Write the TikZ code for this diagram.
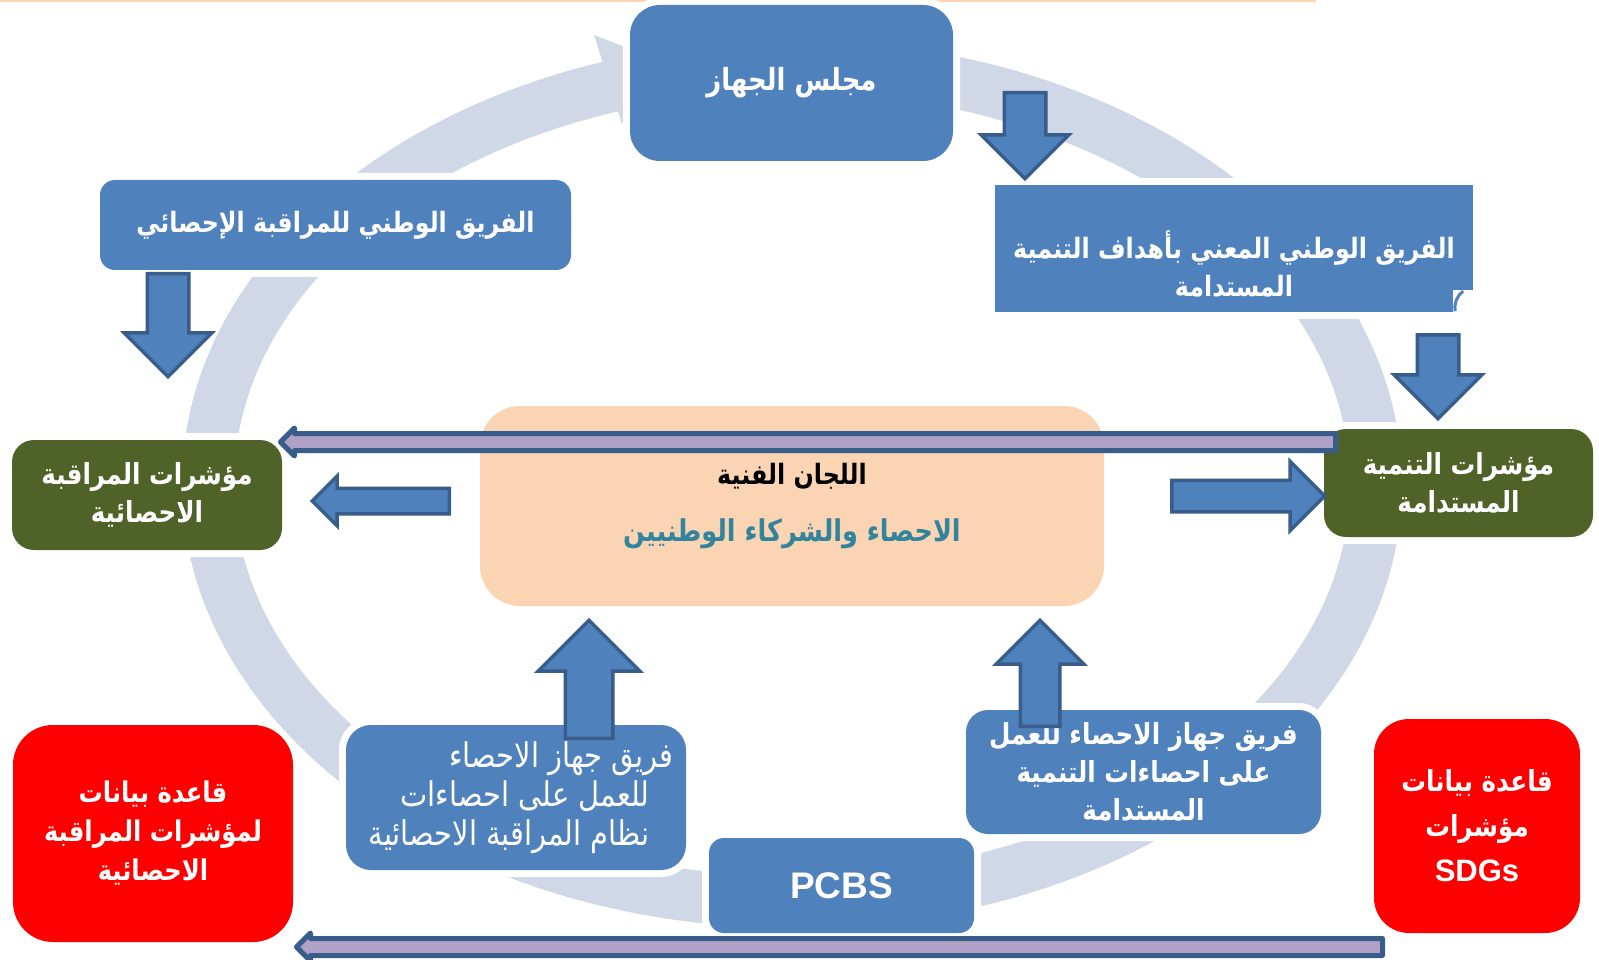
\documentclass[tikz,border=0pt]{standalone}
\usepackage{fontspec}
\setmainfont{Liberation Sans}
\newfontfamily\arabicfont[Script=Arabic,FakeStretch=0.85]{DejaVu Sans}
\TeXXeTstate=1
\usetikzlibrary{shapes.arrows,calc}
\definecolor{boxblue}{RGB}{79,129,189}
\definecolor{arrline}{RGB}{56,93,138}
\definecolor{ringgray}{RGB}{208,216,232}
\definecolor{leafgreen}{RGB}{79,98,40}
\definecolor{peach}{RGB}{251,212,180}
\definecolor{lilac}{RGB}{178,161,199}
\definecolor{tealtxt}{RGB}{49,132,155}
\newcommand{\artxt}[1]{{\arabicfont\beginR #1\endR}}
\tikzset{box/.style={rectangle,inner sep=0pt,text=white,align=center,
		font=\bfseries\fontsize{29}{38}\selectfont},
	 halo/.style={preaction={draw=white,line width=14pt}},
	 bluebox/.style={box,fill=boxblue,halo},
	 greenbox/.style={box,fill=leafgreen,halo,rounded corners=22pt},
	 redbox/.style={box,fill=red},
	 blockarr/.style={single arrow,draw=arrline,fill=boxblue,line width=3.5pt,
		single arrow tip angle=90,anchor=tail},
	 thinarr/.style={single arrow,draw=arrline,fill=lilac,line width=5pt,
		line join=round,single arrow tip angle=90,anchor=tail,
		inner sep=6pt,single arrow head extend=5.5pt}
	 }

\begin{document}
\begin{tikzpicture}[x=1pt,y=-1pt] % cycle of teams, indicators and databases
	\useasboundingbox (0,0) rectangle (1599,960);
	\fill[white] (0,0) rectangle (1599,960);
	\draw[peach,line width=2pt] (0,1) -- (1316,1);
	% the big cycle arrow behind the boxes
	\fill[ringgray,even odd rule] (792,484) ellipse [x radius=610,y radius=444]
		(792,484) ellipse [x radius=558,y radius=392];
	\fill[ringgray] (594,35) -- (690,72) -- (622,124) -- cycle;
	\node[bluebox,rounded corners=30pt,minimum width=323pt,minimum height=156pt,font=\bfseries\fontsize{30.5}{38}\selectfont] (council) at (791.5,83) {\artxt{مجلس الجهاز}};
	\node[bluebox,rounded corners=15pt,minimum width=471pt,minimum height=90pt,font=\bfseries\fontsize{28}{38}\selectfont] (natmon) at (335.5,225) {\artxt{الفريق الوطني للمراقبة الإحصائي}};
	\node[bluebox,minimum width=478pt,minimum height=127pt] (sdgteam) at (1234,248.5) {};
	\node[box,font=\bfseries\fontsize{28}{38}\selectfont] (sdgteamtxt) at ($(sdgteam)+(0,15)$) {\artxt{الفريق الوطني المعني بأهداف التنمية}\\\artxt{المستدامة}};
	\fill[white] ($(sdgteam.south east)+(-20,0)$) rectangle ++(21,-22);
	\draw[boxblue,line width=3pt] ($(sdgteam.south east)+(-10,-21)$) to[bend right=30] ($(sdgteam.south east)+(-18,-1)$);
	\node[greenbox,minimum width=270pt,minimum height=110pt] (lgreen) at (147,495) {\artxt{مؤشرات المراقبة}\\\artxt{الاحصائية}};
	\node[greenbox,minimum width=269pt,minimum height=108pt] (rgreen) at (1458.5,483) {\artxt{مؤشرات التنمية}\\\artxt{المستدامة}};
	\node[box,fill=peach,text=black,rounded corners=40pt,minimum width=624pt,minimum height=200pt] (tech) at (792,506) {{\fontsize{28}{38}\selectfont\artxt{اللجان الفنية}}\\[19pt]\textcolor{tealtxt}{\fontsize{30}{38}\selectfont\artxt{الاحصاء والشركاء الوطنيين}}};
	\node[bluebox,rounded corners=25pt,minimum width=340pt,minimum height=145pt,align=right,font=\fontsize{34}{39}\selectfont] (statteam) at (516,797.5) {\artxt{فريق جهاز الاحصاء}\\\artxt{للعمل على احصاءات}\rule{24pt}{0pt}\\\rule{10pt}{0pt}\artxt{نظام المراقبة الاحصائية}\rule{24pt}{0pt}};
	\node[bluebox,rounded corners=22pt,minimum width=355pt,minimum height=124pt] (sdgstat) at (1143.5,772) {\artxt{فريق جهاز الاحصاء للعمل}\\\artxt{على احصاءات التنمية}\\\artxt{المستدامة}};
	\node[bluebox,rounded corners=15pt,minimum width=265pt,minimum height=95pt,font=\bfseries\fontsize{37}{40}\selectfont] (pcbs) at (841.5,885.5) {PCBS};
	\node[redbox,rounded corners=40pt,minimum width=280pt,minimum height=217pt,font=\bfseries\fontsize{28.5}{39}\selectfont] (monbase) at (153,833.5) {\artxt{قاعدة بيانات}\\\artxt{لمؤشرات المراقبة}\\\artxt{الاحصائية}};
	\node[redbox,rounded corners=35pt,minimum width=206pt,minimum height=214pt,font=\bfseries\fontsize{29}{45}\selectfont] (sdgbase) at (1477,826) {\artxt{قاعدة بيانات}\\\artxt{مؤشرات}\\{\fontsize{31}{45}\selectfont SDGs}};
	% block arrows
	\node[blockarr,shape border rotate=270,inner sep=19pt,single arrow head extend=23pt,minimum height=86pt] (dn1) at (1025,91) {};
	\node[blockarr,shape border rotate=270,inner sep=19pt,single arrow head extend=23pt,minimum height=84pt] (dn2) at (1438,333) {};
	\node[blockarr,shape border rotate=270,inner sep=19pt,single arrow head extend=23pt,minimum height=103pt] (dn3) at (168,272) {};
	\node[blockarr,shape border rotate=180,inner sep=11pt,single arrow head extend=12pt,minimum height=137pt] (lt1) at (451,501) {};
	\node[blockarr,shape border rotate=0,inner sep=14pt,single arrow head extend=19pt,minimum height=153pt] (rt1) at (1170,496) {};
	\node[blockarr,shape border rotate=90,inner sep=22pt,single arrow head extend=27pt,minimum height=118pt] (up1) at (589,740) {};
	\node[blockarr,shape border rotate=90,inner sep=18pt,single arrow head extend=24pt,minimum height=106pt] (up2) at (1040,728) {};
	% long feedback arrows
	\node[thinarr,shape border rotate=180,minimum height=1055pt] (back1) at (1338,442) {};
	\node[thinarr,shape border rotate=180,minimum height=1086pt] (back2) at (1385,947) {};
\end{tikzpicture}
\end{document}
